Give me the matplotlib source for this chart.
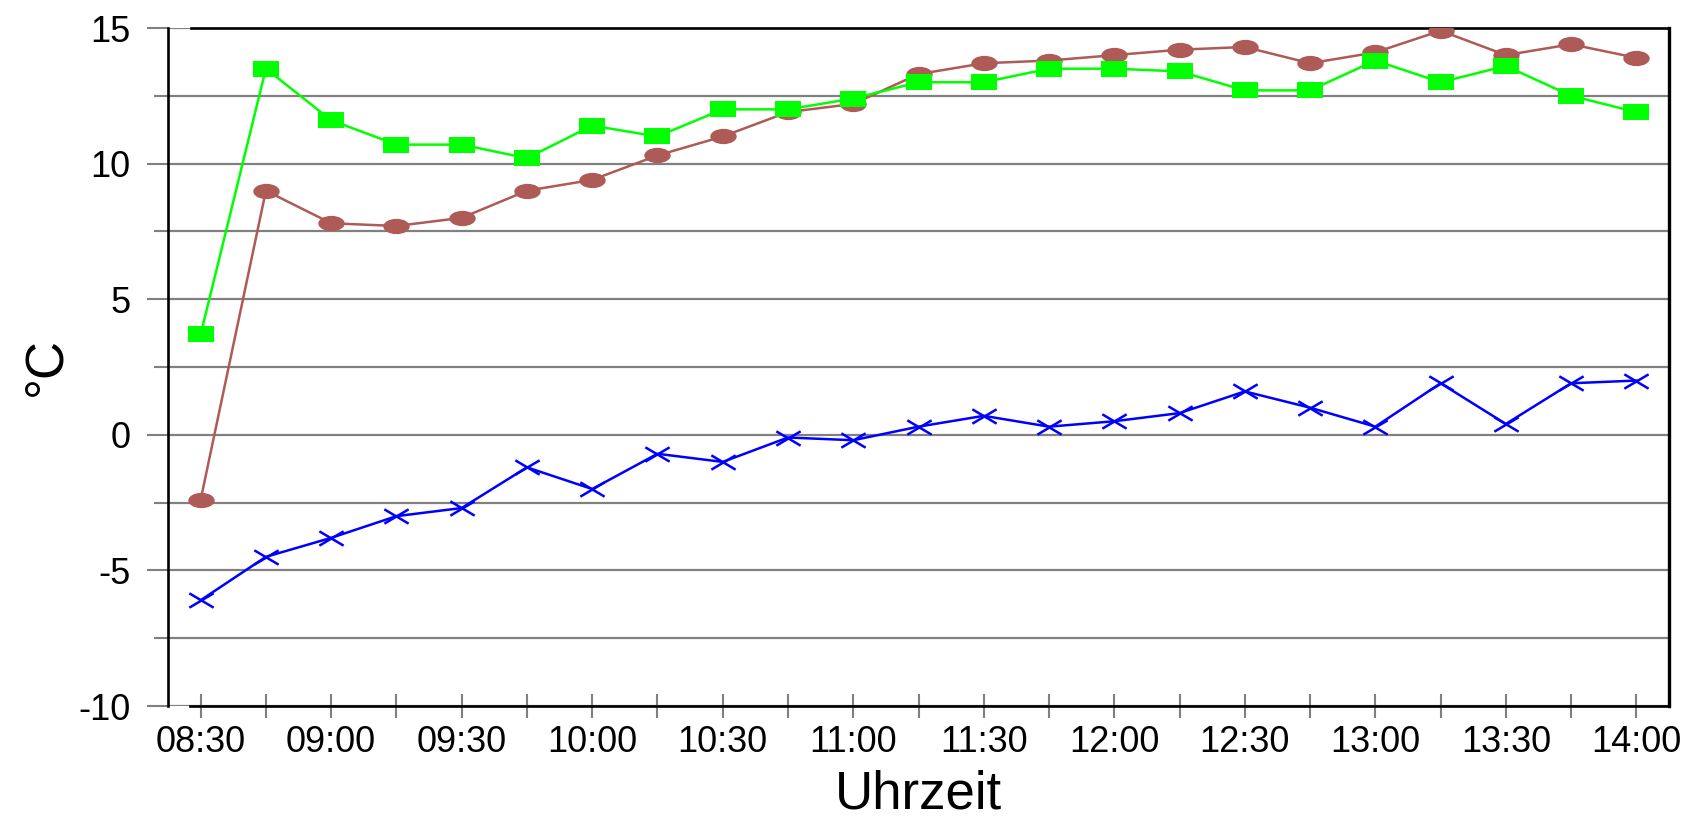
import numpy as np
import matplotlib
matplotlib.use("Agg")
import matplotlib.pyplot as plt
from matplotlib.path import Path

plt.rcParams['font.family'] = ['Liberation Sans', 'DejaVu Sans']

# ---- data ----
times = ["08:30", "08:45", "09:00", "09:15", "09:30", "09:45", "10:00", "10:15",
         "10:30", "10:45", "11:00", "11:15", "11:30", "11:45", "12:00", "12:15",
         "12:30", "12:45", "13:00", "13:15", "13:30", "13:45", "14:00"]
series_brown = [-2.4, 9.0, 7.8, 7.7, 8.0, 9.0, 9.4, 10.3, 11.0, 11.9, 12.2, 13.3,
                13.7, 13.8, 14.0, 14.2, 14.3, 13.7, 14.1, 14.9, 14.0, 14.4, 13.9]
series_green = [3.7, 13.5, 11.6, 10.7, 10.7, 10.2, 11.4, 11.0, 12.0, 12.0, 12.4, 13.0,
                13.0, 13.5, 13.5, 13.4, 12.7, 12.7, 13.8, 13.0, 13.6, 12.5, 11.9]
series_blue = [-6.1, -4.5, -3.8, -3.0, -2.7, -1.2, -2.0, -0.7, -1.0, -0.1, -0.2, 0.3,
               0.7, 0.3, 0.5, 0.8, 1.6, 1.0, 0.3, 1.9, 0.4, 1.9, 2.0]
y_major = [-10, -5, 0, 5, 10, 15]
y_minor = [-7.5, -2.5, 2.5, 7.5, 12.5]
x_label = "Uhrzeit"
y_label = "°C"

# ---- custom flattened markers ----
h_sq = 0.58
sq_marker = Path([(-1, -h_sq), (1, -h_sq), (1, h_sq), (-1, h_sq), (-1, -h_sq)],
                 [Path.MOVETO, Path.LINETO, Path.LINETO, Path.LINETO, Path.CLOSEPOLY])
circ = Path.unit_circle()
ell_marker = Path(circ.vertices * np.array([1.0, 0.58]), circ.codes)
h_x = 0.59
x_marker = Path([(-1, -h_x), (1, h_x), (-1, h_x), (1, -h_x)],
                [Path.MOVETO, Path.LINETO, Path.MOVETO, Path.LINETO])

W, H = 1686, 818
fig = plt.figure(figsize=(W / 100, H / 100), dpi=100)
L, R, T, B = 168, 1669, 28, 706
ax = fig.add_axes([L / W, 1 - B / H, (R - L) / W, (B - T) / H])

x = np.arange(len(times))
grid_c = '#808080'
brown = '#AE5A56'
green = '#00FF00'
blue = '#0000FF'

ax.plot(x, series_brown, color=brown, lw=1.8, marker=ell_marker, markersize=19,
        markerfacecolor=brown, markeredgewidth=0, zorder=3)
ax.plot(x, series_green, color=green, lw=1.8, marker=sq_marker, markersize=19,
        markerfacecolor=green, markeredgewidth=0, zorder=4)
ax.plot(x, series_blue, color=blue, lw=1.8, marker=x_marker, markersize=17.5,
        markeredgecolor=blue, markeredgewidth=1.8, fillstyle='none', zorder=5)

ax.set_xlim(-0.5, len(times) - 0.5)
ax.set_ylim(-10, 15)

ax.set_xticks(x[::2])
ax.set_xticklabels(times[::2])
ax.set_xticks(x[1::2], minor=True)
ax.tick_params(axis='x', which='both', direction='inout', length=17, width=1.5,
               color=grid_c, pad=5, labelsize=26)

ax.set_yticks(y_major)
ax.set_yticklabels([str(v) for v in y_major])
ax.set_yticks(y_minor, minor=True)
ax.tick_params(axis='y', which='major', direction='out', length=15, width=1.5,
               color=grid_c, pad=12, labelsize=26)
ax.tick_params(axis='y', which='minor', direction='out', length=10, width=1.5,
               color=grid_c)

ax.grid(axis='y', which='both', color=grid_c, lw=1.6)
ax.set_axisbelow(True)

for side in ['left', 'bottom', 'top']:
    ax.spines[side].set_linewidth(1.9)
    ax.spines[side].set_color('black')
ax.spines['right'].set_linewidth(2.4)
ax.spines['right'].set_color('black')
ax.spines['bottom'].set_bounds(-0.17, len(times) - 0.5)
ax.spines['top'].set_bounds(-0.14, len(times) - 0.5)

ax.set_xlabel(x_label, fontsize=38)
ax.xaxis.set_label_coords(0.5, -0.094)
ax.set_ylabel(y_label, fontsize=38)
ax.yaxis.set_label_coords(-0.0646, 0.5)

fig.savefig("out.png", dpi=100)
